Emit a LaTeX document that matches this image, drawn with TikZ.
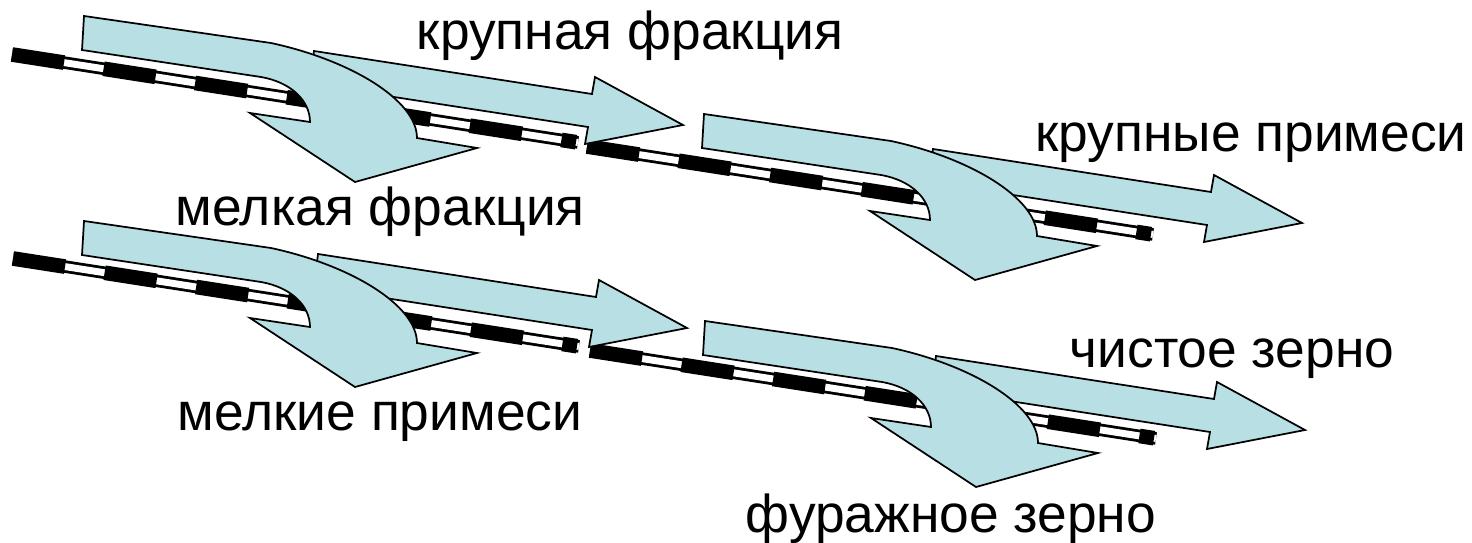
\documentclass[tikz,border=0pt]{standalone}
\usepackage{fontspec}
\setmainfont{Liberation Sans}
\usepackage{tikz}

\definecolor{sievefill}{RGB}{184,223,227}

\tikzset{
  arrowshape/.style={draw=black,fill=sievefill,line width=1.3pt,line join=miter},
  beltrail/.style={draw=black,line width=9.4pt},
  beltgap/.style={draw=white,line width=5.2pt},
  beltdash/.style={draw=black,line width=11pt,dash pattern=on 39.5pt off 30pt},
  lbl/.style={anchor=base,inner sep=0pt,font=\fontsize{40pt}{44pt}\selectfont}
}

% sieve belt, shifted by (#1,#2)
\newcommand{\sievebelt}[2]{
  \begin{scope}[shift={(#1,#2)}]
    \draw[beltrail] (12,54.5) -- (578,142.5);
    \draw[beltgap] (12,54.5) -- (578,142.5);
    \draw[beltdash] (12,54.5) -- (576,142.2);
  \end{scope}
}
% arrow of what passes over the sieve
\newcommand{\overarrow}[2]{
  \begin{scope}[shift={(#1,#2)}]
    \draw[arrowshape] (314,51) -- (592,94) -- (595,77) -- (683,125) -- (585,144) -- (588,127) -- (310,84) -- cycle;
  \end{scope}
}
% arrow of what falls through the sieve
\newcommand{\througharrow}[2]{
  \begin{scope}[shift={(#1,#2)}]
    \draw[arrowshape] (84,16) -- (271,43) .. controls (350,60) and (417,100) .. (417,138)
      -- (477,148) -- (355,182) -- (250,113) -- (310,122)
      .. controls (310,100) and (290,82) .. (261,77) -- (82,50) -- cycle;
  \end{scope}
}

\begin{document}
\begin{tikzpicture}[x=0.75pt,y=0.75pt,yscale=-1,xscale=1]
\useasboundingbox (0,0) rectangle (1472,543);

%belts
\sievebelt{0}{0}
\sievebelt{575}{92}
\sievebelt{1}{204}
\sievebelt{578}{296}

%upper row
\overarrow{0}{0}
\througharrow{0}{0}
\overarrow{619}{98}
\througharrow{620}{98}

%lower row
\overarrow{4}{203}
\througharrow{0}{205}
\overarrow{622}{305}
\througharrow{621}{305}

% Text Node
\node[lbl] (krupfrac) at (630,49) {крупная фракция};
\node[lbl] (melkfrac) at (380,225) {мелкая фракция};
\node[lbl] (krupprim) at (1251,151) {крупные примеси};
\node[lbl] (melkprim) at (380,430) {мелкие примеси};
\node[lbl] (chistzer) at (1232,367) {чистое зерно};
\node[lbl] (furazzer) at (951,532) {фуражное зерно};

\end{tikzpicture}
\end{document}
